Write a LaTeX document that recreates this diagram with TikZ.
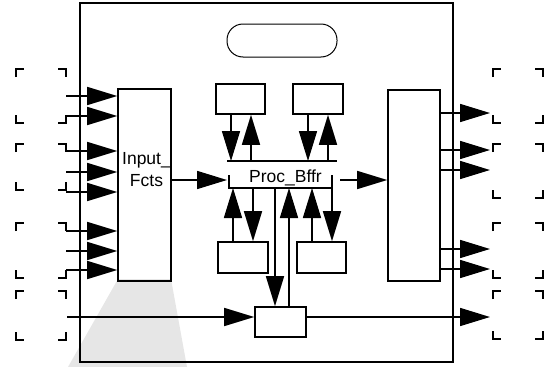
\documentclass[tikz,border=0pt]{standalone}
\usepackage{fontspec}
\setmainfont{Liberation Sans}
\usetikzlibrary{arrows.meta}
\definecolor{beamgray}{HTML}{E6E6E6}

\newcommand\crnbox[4]{%
  \draw[crn] (#1,#2+8) -- (#1,#2) -- (#1+8,#2);
  \draw[crn] (#3-8,#2) -- (#3,#2) -- (#3,#2+8);
  \draw[crn] (#1,#4-8) -- (#1,#4) -- (#1+8,#4);
  \draw[crn] (#3-8,#4) -- (#3,#4) -- (#3,#4-8);}

\tikzset{
  blk/.style={draw,line width=1.6pt,inner sep=0pt},
  crn/.style={line width=1.8pt},
  arr/.style={line width=1.6pt,-{Triangle[length=30pt,width=18pt]}},
  lbl/.style={inner sep=0pt,font=\fontsize{17.5}{22}\selectfont}
}

\begin{document}
\begin{tikzpicture}[x=1pt,y=-1pt]
        \useasboundingbox (0,0) rectangle (552,367);
        \fill[beamgray] (118,279) -- (171,279) -- (187,367) -- (68,367) -- cycle;
        \draw[line width=1.6pt] (80,3) rectangle (453,362);

        \node[blk,line width=1pt,rounded corners=16pt,minimum width=110pt,minimum height=33pt] (ctrl) at (282,40.5) {};
        \node[blk,minimum width=53pt,minimum height=192pt] (infcts) at (144.5,185) {};
        \node[lbl,align=center,anchor=north] (inlbl) at (146.5,152) {Input\_\\Fcts};
        \node[blk,minimum width=52pt,minimum height=191pt] (outfcts) at (414,185.5) {};
        \node[blk,minimum width=49pt,minimum height=30pt] (tb1) at (240.5,99) {};
        \node[blk,minimum width=50pt,minimum height=30pt] (tb2) at (318,99) {};
        \node[blk,minimum width=50pt,minimum height=31pt] (bb1) at (243,257.5) {};
        \node[blk,minimum width=49pt,minimum height=31pt] (bb2) at (321.5,257.5) {};
        \node[blk,minimum width=51pt,minimum height=30pt] (mux) at (280.5,322) {};

        \coordinate (busL) at (227,161);
        \coordinate (busR) at (337,161);
        \draw[crn] (busL) -- (busR);
        \node[lbl,anchor=base] (buf) at (285.5,182.5) {Proc\_Bffr};
        \coordinate (brL) at (229,188);
        \coordinate (brR) at (332,188);
        \draw[crn] (229,175) -- (brL) -- (brR) -- (332,175);

        \crnbox{16}{69}{66}{123}
        \crnbox{16}{144}{66}{190}
        \crnbox{16}{223}{66}{278}
        \crnbox{16}{291}{66}{340}
        \crnbox{493}{69}{543}{123}
        \crnbox{493}{144}{543}{198}
        \crnbox{493}{223}{543}{278}
        \crnbox{493}{291}{543}{339}

        \foreach \y in {96,116,151,172,192,231,251,270}
          \draw[arr] (66,\y) -- (infcts.west |- 0,\y);
        \foreach \y in {113,150,170,249,269}
          \draw[arr] (outfcts.east |- 0,\y) -- (490,\y);
        \draw[arr] (67,317) -- (mux.west |- 0,317);
        \draw[arr] (mux.east |- 0,317) -- (490,317);

        \draw[arr] (infcts.east |- 0,180) -- (busL |- 0,180);
        \draw[arr] (340,180) -- (outfcts.west |- 0,180);

        \draw[arr] (tb1.south -| 231,0) -- (231,0 |- busL);
        \draw[arr] (251,0 |- busL) -- (tb1.south -| 251,0);
        \draw[arr] (tb2.south -| 308,0) -- (308,0 |- busL);
        \draw[arr] (328,0 |- busL) -- (tb2.south -| 328,0);

        \draw[arr] (bb1.north -| 233,0) -- (233,0 |- brL);
        \draw[arr] (253,0 |- brL) -- (bb1.north -| 253,0);
        \draw[arr] (bb2.north -| 312,0) -- (312,0 |- brL);
        \draw[arr] (332,0 |- brR) -- (bb2.north -| 332,0);

        \draw[arr] (275,0 |- brL) -- (mux.north -| 275,0);
        \draw[arr] (mux.north -| 289,0) -- (289,0 |- brL);
\end{tikzpicture}
\end{document}
